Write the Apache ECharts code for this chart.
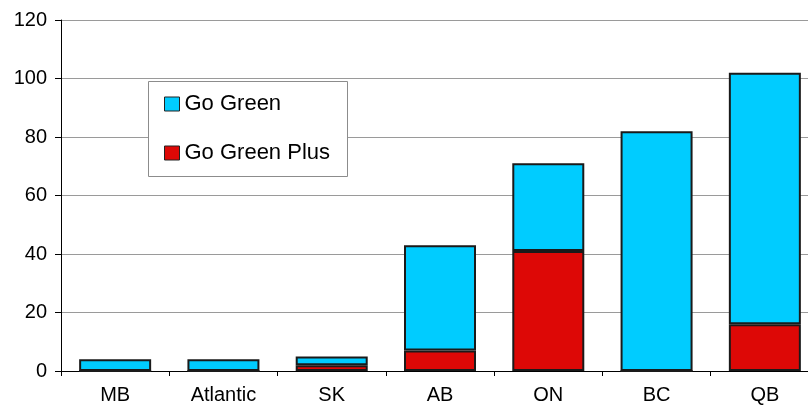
<!DOCTYPE html>
<html>
<head>
<meta charset="utf-8">
<script src="https://cdn.jsdelivr.net/npm/echarts@6/dist/echarts.min.js"></script>
<style>
  html, body { margin: 0; padding: 0; background: #fff; overflow: hidden; width: 808px; height: 405px; }
  #chart { width: 820px; height: 405px; }
</style>
</head>
<body>
<div id="chart"></div>
<script>
// Program enrolment by region, split into the two tiers
const regions = ['MB', 'Atlantic', 'SK', 'AB', 'ON', 'BC', 'QB'];
const goGreenPlus = [0, 0, 2, 7, 41, 0, 16];
const goGreen = [4, 4, 3, 36, 30, 82, 86];
const yTicks = [0, 20, 40, 60, 80, 100, 120];

const FONT = 'Liberation Sans, Arial, sans-serif';
const chart = echarts.init(document.getElementById('chart'), null, { renderer: 'canvas' });

chart.setOption({
  animation: false,
  backgroundColor: '#ffffff',
  // the plot runs slightly past the right edge of the visible page
  grid: { left: 61, top: 20, right: 1, height: 351 },
  graphic: [{
    type: 'rect',
    shape: { x: 148.5, y: 81.5, width: 199, height: 95 },
    style: { fill: '#ffffff', stroke: '#8c8c8c', lineWidth: 1 },
    z: 90
  }],
  legend: {
    data: ['Go Green', 'Go Green Plus'],
    orient: 'vertical',
    left: 164,
    top: 93,
    padding: 0,
    icon: 'rect',
    itemWidth: 15,
    itemHeight: 14,
    itemGap: 27,
    itemStyle: { borderColor: '#222', borderWidth: 1 },
    textStyle: { fontFamily: FONT, fontSize: 22, color: '#000', lineHeight: 22 },
    z: 100
  },
  xAxis: {
    type: 'category',
    data: regions,
    axisLine: { lineStyle: { color: '#000', width: 1 } },
    axisTick: { show: true, length: 5, lineStyle: { color: '#000' } },
    axisLabel: { fontFamily: FONT, fontSize: 20, color: '#000', margin: 14 }
  },
  yAxis: {
    type: 'value',
    min: yTicks[0],
    max: yTicks[yTicks.length - 1],
    interval: 20,
    axisLine: { show: true, lineStyle: { color: '#000', width: 1 } },
    axisTick: { show: true, length: 6, lineStyle: { color: '#000' } },
    axisLabel: { fontFamily: FONT, fontSize: 20, color: '#000', margin: 14 },
    splitLine: { show: true, lineStyle: { color: '#9a9a9a', width: 1 } }
  },
  series: [
    {
      name: 'Go Green Plus',
      type: 'bar',
      stack: 'total',
      data: goGreenPlus,
      barWidth: 72,
      itemStyle: { color: '#dd0806', borderColor: '#1a1a1a', borderWidth: 2 }
    },
    {
      name: 'Go Green',
      type: 'bar',
      stack: 'total',
      data: goGreen,
      barWidth: 72,
      itemStyle: { color: '#00ccff', borderColor: '#1a1a1a', borderWidth: 2 }
    }
  ]
});
</script>
</body>
</html>
